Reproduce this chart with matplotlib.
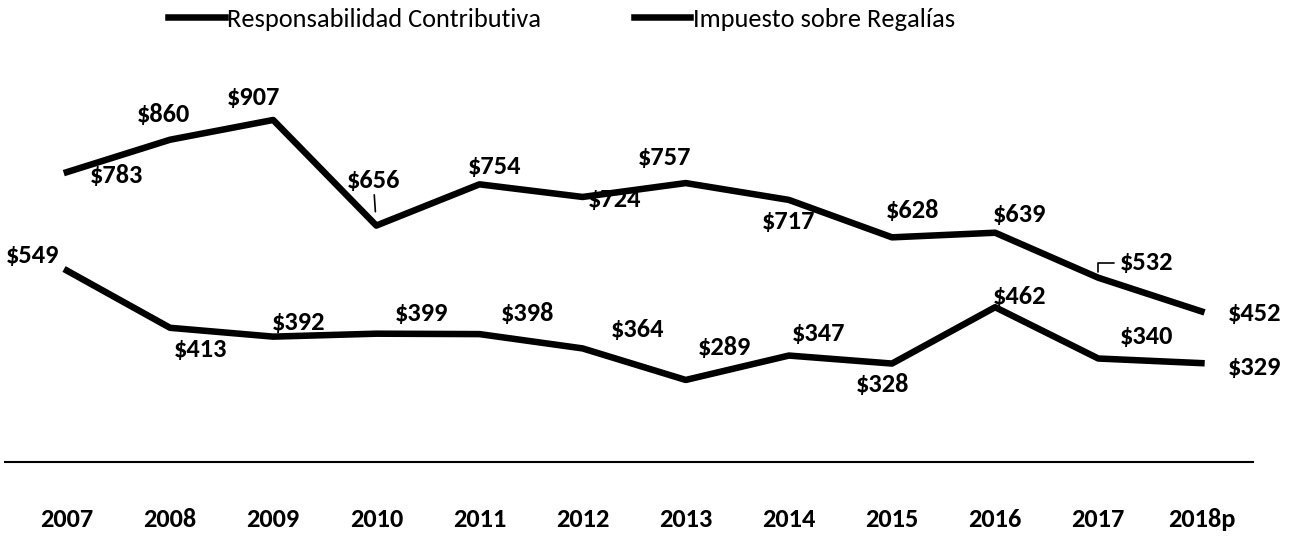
import matplotlib
matplotlib.use("Agg")
import matplotlib.pyplot as plt
from matplotlib import font_manager as fm

# Calibri-like font if one is available
available = {f.name for f in fm.fontManager.ttflist}
for name in ["Carlito", "Calibri", "Liberation Sans Narrow", "Asap Condensed", "DejaVu Sans"]:
    if name in available:
        plt.rcParams["font.family"] = [name, "DejaVu Sans"]
        break

years = ["2007", "2008", "2009", "2010", "2011", "2012", "2013", "2014",
         "2015", "2016", "2017", "2018p"]
responsabilidad = [783, 860, 907, 656, 754, 724, 757, 717, 628, 639, 532, 452]
regalias = [549, 413, 392, 399, 398, 364, 289, 347, 328, 462, 340, 329]

# label offsets in pixels (dx, dy) from each point
off_resp = [(50, -3), (-7, 25), (-20, 22), (-3, 45), (15, 18), (32, -3),
            (-21, 26), (0, -22), (20, 27), (24, 18), (48, 15), (53, -2)]
off_reg = [(-34, 15), (30, -22), (25, 14), (45, 20), (48, 21), (55, 19),
           (39, 32), (30, 22), (-10, -21), (24, 11), (48, 22), (53, -4)]

fig = plt.figure(figsize=(12.96, 5.51), dpi=100)
ax = fig.add_axes([5 / 1296, 1 - 462 / 551, 1248 / 1296, 382 / 551])

x = list(range(len(years)))
l1, = ax.plot(x, responsabilidad, color="black", lw=4.7, solid_joinstyle="round",
              label="Responsabilidad Contributiva")
l2, = ax.plot(x, regalias, color="black", lw=4.7, solid_joinstyle="round",
              label="Impuesto sobre Regalías")

lab = dict(fontsize=19, fontweight="bold", ha="center", va="center",
           textcoords="offset pixels")
for i, v in enumerate(responsabilidad):
    dx, dy = off_resp[i]
    kw = {}
    if i == 3:
        kw["arrowprops"] = dict(arrowstyle="-", lw=1.2, color="black",
                                shrinkA=0, shrinkB=10)
    if i == 10:
        kw["arrowprops"] = dict(arrowstyle="-", lw=1.2, color="black",
                                connectionstyle="angle,angleA=180,angleB=90,rad=0",
                                shrinkA=2, shrinkB=4)
    ax.annotate(f"${v}", (i, v), xytext=(dx, dy), **lab, **kw)
for i, v in enumerate(regalias):
    dx, dy = off_reg[i]
    ax.annotate(f"${v}", (i, v), xytext=(dx, dy), **lab)

ax.set_xlim(-0.6, 11.5)
ax.set_ylim(94, 1002)
ax.set_xticks(x)
ax.set_xticklabels(years, fontsize=19, fontweight="bold")
ax.tick_params(axis="x", length=0, pad=33)
ax.set_yticks([])
for s in ["top", "left", "right"]:
    ax.spines[s].set_visible(False)
ax.spines["bottom"].set_linewidth(1.5)

fig.legend(handles=[l1, l2], loc="upper left", bbox_to_anchor=(152 / 1296, 1.015),
           ncol=2, frameon=False, fontsize=19, handlelength=2.15,
           handletextpad=0.1, columnspacing=3.5, borderaxespad=0.2)

fig.savefig("out.png", dpi=100)
